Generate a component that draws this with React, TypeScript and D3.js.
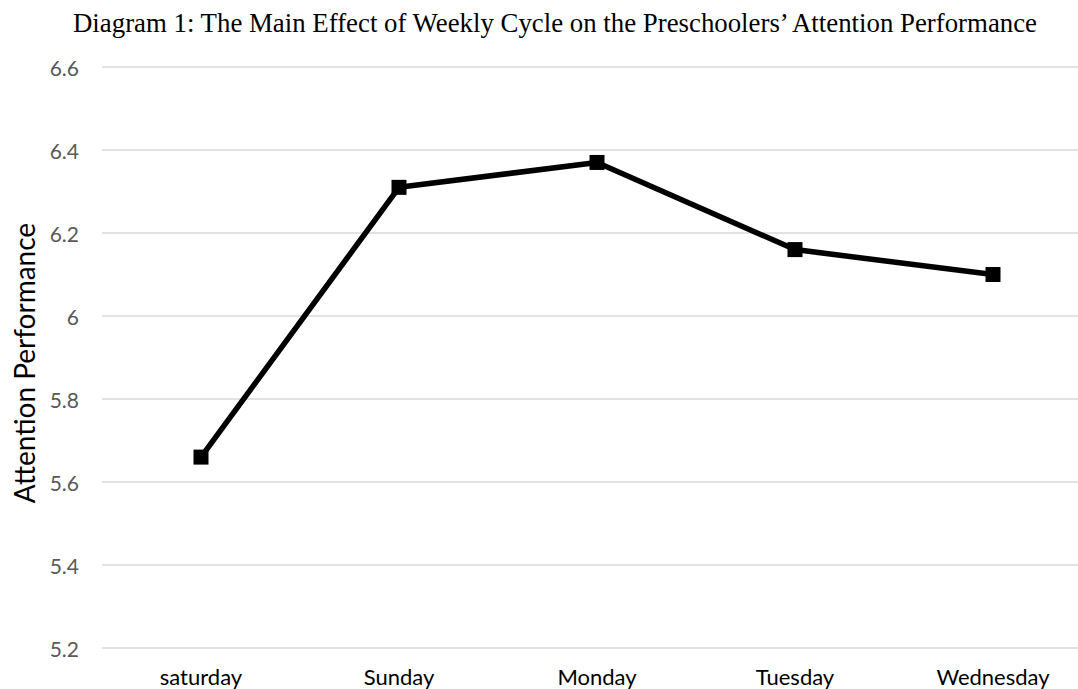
import React from "react";
import * as d3 from "d3";

const categories = ["saturday", "Sunday", "Monday", "Tuesday", "Wednesday"];
const values = [5.66, 6.31, 6.37, 6.16, 6.1];
const yTicks = [5.2, 5.4, 5.6, 5.8, 6, 6.2, 6.4, 6.6];
const title = "Diagram 1: The Main Effect of Weekly Cycle on the Preschoolers\u2019 Attention Performance";
const yLabel = "Attention Performance";

const W = 1078;
const H = 689;

export default function App() {
  const x = d3.scaleBand<string>().domain(categories).range([102, 1092]).padding(0);
  const cx = (c: string) => (x(c) as number) + x.bandwidth() / 2;
  const y = d3.scaleLinear().domain([5.2, 6.6]).range([648, 67]);
  const line = d3
    .line<number>()
    .x((_, i) => cx(categories[i]))
    .y((d) => y(d));
  const sans = "Lato, 'Open Sans', sans-serif";
  return (
    <svg
      width={W}
      height={H}
      style={{ position: "absolute", left: 0, top: 0, display: "block", background: "#fff" }}
    >
      <text
        x={73}
        y={32}
        fontFamily="'Liberation Serif', 'Times New Roman', serif"
        fontSize={27.5}
        fill="#000"
        textLength={964}
        lengthAdjust="spacingAndGlyphs"
      >
        {title}
      </text>
      {yTicks.map((t) => (
        <g key={t}>
          <line x1={102} x2={W} y1={y(t)} y2={y(t)} stroke="#d9d9d9" strokeWidth={1.5} />
          <text
            x={79}
            y={y(t)}
            textAnchor="end"
            dominantBaseline="central"
            fontFamily={sans}
            fontSize={21}
            fill="#595959"
          >
            {d3.format("")(t)}
          </text>
        </g>
      ))}
      {categories.map((c) => (
        <text key={c} x={cx(c)} y={685} textAnchor="middle" fontFamily={sans} fontSize={22} fill="#000">
          {c}
        </text>
      ))}
      <text
        transform={`translate(24,363) rotate(-90)`}
        textAnchor="middle"
        dominantBaseline="central"
        fontFamily={sans}
        fontSize={28}
        fill="#000"
      >
        {yLabel}
      </text>
      <path d={line(values) || ""} fill="none" stroke="#000" strokeWidth={5.5} strokeLinejoin="round" />
      {values.map((v, i) => (
        <rect key={i} x={cx(categories[i]) - 7.5} y={y(v) - 7.5} width={15} height={15} fill="#000" />
      ))}
    </svg>
  );
}
